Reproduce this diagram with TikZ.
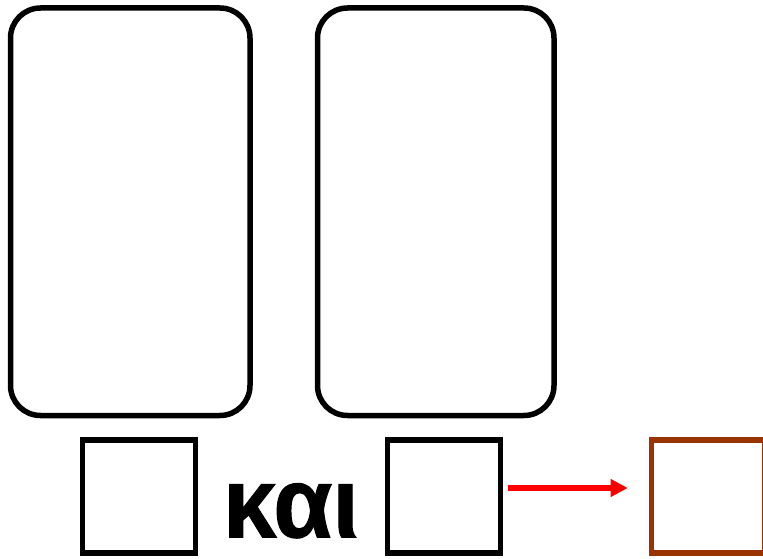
\documentclass[tikz,border=0pt]{standalone}
\usepackage{fontspec}
\newfontfamily\grfont[FakeBold=1]{Liberation Sans Bold}
\usetikzlibrary{arrows.meta}
\definecolor{brownish}{HTML}{993300}
\tikzset{
  panel/.style={draw=black,line width=5.5pt,rounded corners=30pt,minimum width=#1,minimum height=407.5pt,inner sep=0pt,outer sep=0pt},
  sqbox/.style={draw=#1,line width=5.5pt,minimum width=113pt,minimum height=113pt,inner sep=0pt,outer sep=0pt},
  arr/.style={draw=red,line width=5.5pt,-{Triangle[length=17pt,width=17pt]}}
}
\begin{document}
\begin{tikzpicture}[x=1pt,y=-1pt]
\useasboundingbox (0,0) rectangle (763,559);
\node[panel=239.5pt] (p1) at (130.25,211.75) {};
\node[panel=236.5pt] (p2) at (435.75,211.75) {};
\node[sqbox=black] (s1) at (139,496.5) {};
\node[sqbox=black] (s2) at (444,496.5) {};
\node[sqbox=brownish] (s3) at (708.2,496.5) {};
\node[anchor=base,inner sep=0pt] (t) at (291,537.3) {\resizebox{136pt}{54pt}{\grfont και}};
\draw[arr] ([xshift=7pt,yshift=8.5pt]s2.east) -- ([xshift=-24pt,yshift=8.5pt]s3.west);
\end{tikzpicture}
\end{document}
